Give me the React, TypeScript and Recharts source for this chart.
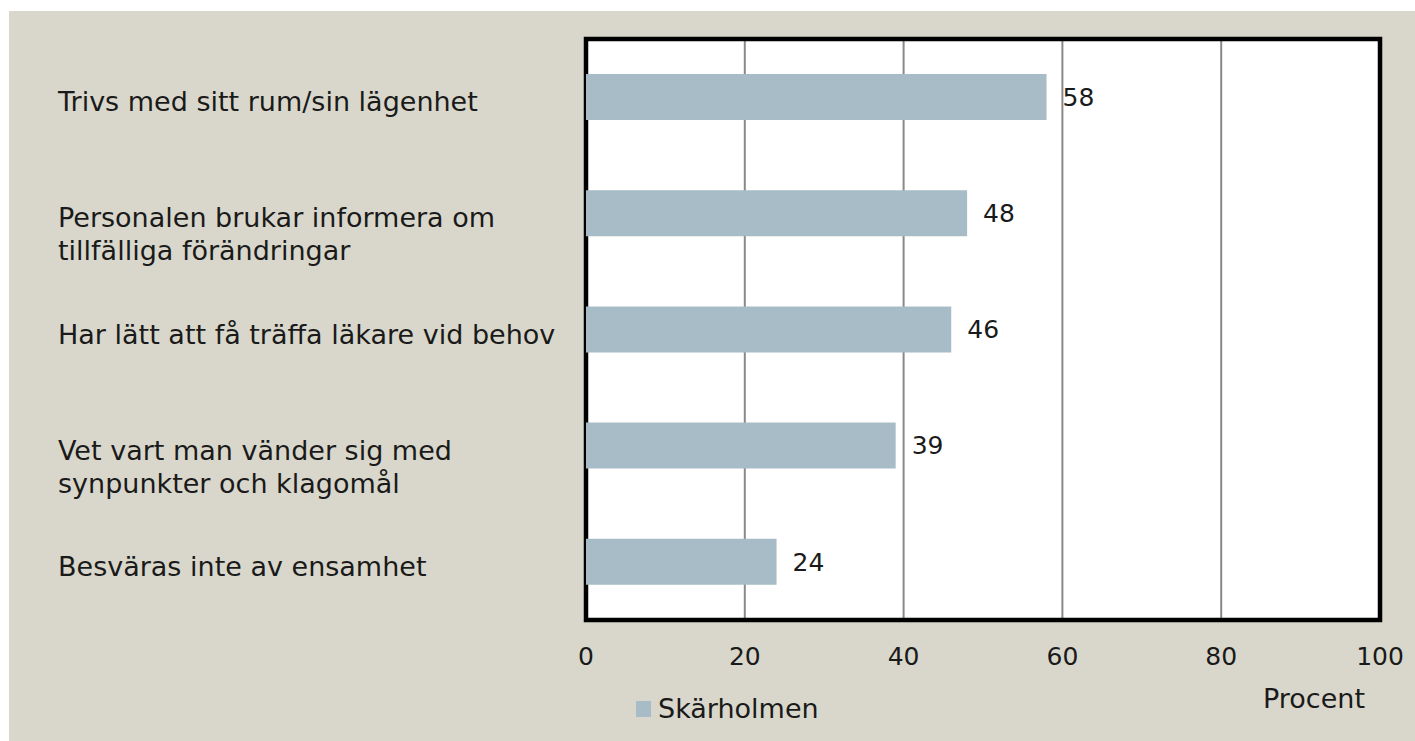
import React from "react";
import { BarChart, Bar, XAxis, YAxis, CartesianGrid, LabelList, Legend, ReferenceArea, Label } from "recharts";

const categories = [
  "Trivs med sitt rum/sin lägenhet",
  "Personalen brukar informera om\ntillfälliga förändringar",
  "Har lätt att få träffa läkare vid behov",
  "Vet vart man vänder sig med\nsynpunkter och klagomål",
  "Besväras inte av ensamhet",
];
const values = [58, 48, 46, 39, 24];
const xTicks = [0, 20, 40, 60, 80, 100];
const seriesName = "Skärholmen";
const axisTitle = "Procent";

const data = categories.map((name, i) => ({ name, value: values[i] }));

const FONT = "'DejaVu Sans', sans-serif";
const FS = 25;
const FS_TEXT = 27;
const TEXT = "#1a1a1a";
const BAR = "#a7bcc6";
const BG = "#d9d7cb";

const YTick = (props: any) => {
  const { y, payload } = props;
  const lines = String(payload.value).split("\n");
  return (
    <text x={49} y={y + 14} textAnchor="start" fill={TEXT} fontSize={FS_TEXT} fontFamily={FONT}>
      {lines.map((l, i) => (
        <tspan key={i} x={49} dy={i === 0 ? 0 : 33}>
          {l}
        </tspan>
      ))}
    </text>
  );
};

const XTick = (props: any) => {
  const { x, y, payload } = props;
  return (
    <text x={x} y={y + 36} textAnchor="middle" dominantBaseline="central" fill={TEXT} fontSize={FS} fontFamily={FONT}>
      {payload.value}
    </text>
  );
};

const LegendContent = () => (
  <div style={{ display: "flex", alignItems: "center", fontFamily: FONT, fontSize: FS_TEXT, color: TEXT, lineHeight: "29px", whiteSpace: "nowrap" }}>
    <span style={{ display: "inline-block", width: 15, height: 16, background: BAR }} />
    <span style={{ marginLeft: 7 }}>{seriesName}</span>
  </div>
);

export default function App() {
  return (
    <div style={{ position: "absolute", left: 9, top: 11, width: 1406, height: 730, background: BG }}>
      <BarChart
        width={1406}
        height={730}
        data={data}
        layout="vertical"
        margin={{ top: 28, right: 35, bottom: 21, left: 0 }}
        style={{ fontFamily: FONT }}
      >
        <CartesianGrid horizontal={false} vertical={true} stroke="#898989" strokeWidth={2} fill="#ffffff" fillOpacity={1} />
        <XAxis
          type="number"
          domain={[0, 100]}
          ticks={xTicks}
          axisLine={false}
          tickLine={false}
          tickSize={0}
          tickMargin={0}
          height={100}
          tick={<XTick />}
          interval={0}
        >
          <Label
            content={(p: any) => {
              const vb = p.viewBox || { x: 577, y: 609, width: 794, height: 100 };
              return (
                <text x={vb.x + vb.width - 15} y={vb.y + 88} textAnchor="end" fill={TEXT} fontSize={FS_TEXT} fontFamily={FONT}>
                  {axisTitle}
                </text>
              );
            }}
          />
        </XAxis>
        <YAxis
          type="category"
          dataKey="name"
          width={577}
          axisLine={false}
          tickLine={false}
          tick={<YTick />}
          interval={0}
        />
        <ReferenceArea x1={0} x2={100} fill="none" stroke="#000" strokeWidth={4.5} ifOverflow="visible" />
        <Bar dataKey="value" name={seriesName} fill={BAR} barSize={46} isAnimationActive={false}>
          <LabelList dataKey="value" position="right" offset={16} fill={TEXT} fontSize={FS} fontFamily={FONT} />
        </Bar>
        <Legend
          layout="horizontal"
          verticalAlign="middle"
          align="center"
          wrapperStyle={{ position: "absolute", left: 627, top: 683, width: "auto" }}
          content={<LegendContent />}
        />
      </BarChart>
    </div>
  );
}
